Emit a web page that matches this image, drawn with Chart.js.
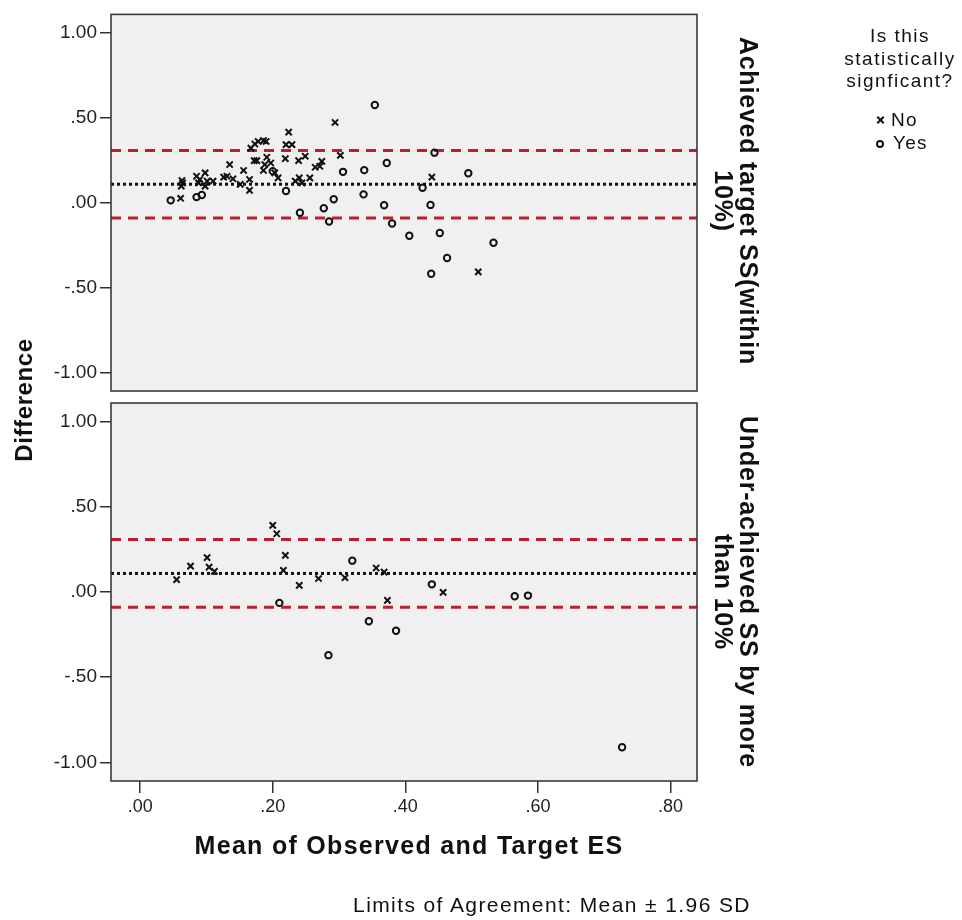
<!DOCTYPE html>
<html>
<head>
<meta charset="utf-8">
<script src="https://cdn.jsdelivr.net/npm/chart.js@4.4.1/dist/chart.umd.min.js"></script>
<style>
body { margin: 0; background: #fff; font-family: "Liberation Sans", Arial, sans-serif; color: #111; }
#wrap { position: relative; width: 962px; height: 920px; overflow: hidden; }
#wrap canvas { position: absolute; left: 0; top: 0; }
.txt { position: absolute; white-space: nowrap; }
.bold { font-weight: bold; }
.panel { width: 379px; height: 50px; line-height: 25px; font-size: 25px; letter-spacing: 0.8px; text-align: center; transform: rotate(90deg); }
.sym { position: absolute; width: 8px; height: 8px; box-sizing: border-box; }
.sym.yes { border: 2px solid #111; border-radius: 50%; }
.sym.no::before, .sym.no::after { content: ""; position: absolute; left: -0.5px; top: 3px; width: 9px; height: 2px; background: #111; }
.sym.no::before { transform: rotate(45deg); }
.sym.no::after { transform: rotate(-45deg); }
</style>
</head>
<body>
<div id="wrap">
  <canvas id="topChart" width="962" height="920"></canvas>
  <canvas id="botChart" width="962" height="920"></canvas>

  <div class="txt bold" style="left:-76px; top:386px; width:200px; line-height:28px; font-size:24px; letter-spacing:0.6px; text-align:center; transform:rotate(-90deg);">Difference</div>

  <div class="txt bold panel" style="left:546px; top:176px;">Achieved target SS(within<br>10%)</div>
  <div class="txt bold panel" style="left:546px; top:567px;">Under-achieved SS by more<br>than 10%</div>

  <div class="txt" style="left:800px; top:25px; width:200px; font-size:19px; line-height:22.7px; letter-spacing:1.5px; text-align:center;">Is this<br>statistically<br>signficant?</div>
  <div class="sym no" style="left:876px; top:116px;"></div>
  <div class="txt" style="left:891px; top:108.5px; font-size:19px; line-height:22px; letter-spacing:1.2px;">No</div>
  <div class="sym yes" style="left:876px; top:139.5px;"></div>
  <div class="txt" style="left:893px; top:132px; font-size:19px; line-height:22px; letter-spacing:1.2px;">Yes</div>

  <div class="txt bold" style="left:159px; top:831px; width:500px; font-size:25px; line-height:29px; letter-spacing:1.3px; text-align:center;">Mean of Observed and Target ES</div>
  <div class="txt" style="left:302px; top:892px; width:500px; font-size:21px; line-height:25px; letter-spacing:1.4px; text-align:center;">Limits of Agreement: Mean &plusmn; 1.96 SD</div>
</div>

<script>
// Achieved target SS (within 10%)
var topNoX  = [0.061, 0.063, 0.064, 0.062, 0.085, 0.090, 0.098, 0.101, 0.098, 0.088, 0.110, 0.126, 0.131, 0.135, 0.140, 0.151, 0.156,
               0.165, 0.165, 0.167, 0.173, 0.178, 0.186, 0.190, 0.172, 0.176, 0.186, 0.188, 0.191, 0.197, 0.203, 0.208, 0.220,
               0.224, 0.229, 0.219, 0.239, 0.249, 0.234, 0.240, 0.244, 0.256, 0.264, 0.271, 0.274, 0.294, 0.302, 0.440, 0.510];
var topNoY  = [0.026, 0.131, 0.117, 0.098, 0.156, 0.137, 0.176, 0.127, 0.098, 0.117, 0.127, 0.151, 0.156, 0.225, 0.141, 0.108, 0.190,
               0.137, 0.073, 0.322, 0.346, 0.361, 0.366, 0.361, 0.248, 0.248, 0.190, 0.225, 0.268, 0.234, 0.176, 0.146, 0.342,
               0.416, 0.342, 0.260, 0.248, 0.274, 0.127, 0.146, 0.117, 0.146, 0.209, 0.215, 0.244, 0.473, 0.279, 0.151, -0.408];
var topYesX = [0.046, 0.085, 0.093, 0.200, 0.220, 0.241, 0.277, 0.285, 0.292, 0.306, 0.354, 0.338, 0.337, 0.372, 0.368, 0.380, 0.406,
               0.426, 0.444, 0.438, 0.452, 0.463, 0.439, 0.495, 0.533];
var topYesY = [0.014, 0.033, 0.045, 0.186, 0.069, -0.059, -0.033, -0.111, 0.020, 0.182, 0.576, 0.192, 0.049, 0.234, -0.015, -0.123, -0.195,
               0.088, 0.295, -0.013, -0.179, -0.326, -0.419, 0.174, -0.236];

// Under-achieved SS by more than 10%
var botNoX  = [0.055, 0.076, 0.101, 0.104, 0.112, 0.200, 0.206, 0.219, 0.216, 0.240, 0.269, 0.309, 0.356, 0.368, 0.373, 0.457];
var botNoY  = [0.073, 0.152, 0.202, 0.146, 0.121, 0.391, 0.342, 0.215, 0.127, 0.039, 0.079, 0.084, 0.141, 0.117, -0.049, -0.002];
var botYesX = [0.210, 0.284, 0.320, 0.345, 0.386, 0.440, 0.565, 0.585, 0.727];
var botYesY = [-0.064, -0.371, 0.184, -0.172, -0.228, 0.045, -0.025, -0.021, -0.912];

// limits of agreement (mean +/- 1.96 SD)
var meanDiff = 0.109;
var upperLoA = 0.308;
var lowerLoA = -0.090;

var xRange = [-0.044, 0.84];
var yRange = [-1.11, 1.11];
var xTicks = [0, 0.2, 0.4, 0.6, 0.8];
var yTicks = [-1, -0.5, 0, 0.5, 1];

var FONT = '"Liberation Sans", Arial, sans-serif';

function pts(xs, ys) {
    return xs.map(function(x, i) { return { x: x, y: ys[i] }; });
}
function hline(v) {
    return [{ x: xRange[0], y: v }, { x: xRange[1], y: v }];
}
// SPSS style: .50, -.50, 1.00
function fmt(v) {
    var s = Math.abs(v).toFixed(2).replace(/^0/, '');
    return (v < 0 ? '-' : '') + s;
}

// grey plot background + frame
var framePlugin = {
    id: 'frame',
    beforeDraw: function(chart) {
        var a = chart.chartArea, ctx = chart.ctx;
        ctx.save();
        ctx.fillStyle = '#F0F0F0';
        ctx.fillRect(a.left, a.top, a.right - a.left, a.bottom - a.top);
        ctx.restore();
    },
    afterDraw: function(chart) {
        var a = chart.chartArea, ctx = chart.ctx;
        ctx.save();
        ctx.strokeStyle = '#3a3a3a';
        ctx.lineWidth = 1.6;
        ctx.strokeRect(a.left, a.top, a.right - a.left, a.bottom - a.top);
        ctx.restore();
    }
};

function makeChart(id, noX, noY, yesX, yesY, isBottom) {
    var tickGrid = { drawOnChartArea: false, drawTicks: true, color: '#333', lineWidth: 1.5 };

    var chartData = {
        datasets: [
            { type: 'scatter', label: 'No', data: pts(noX, noY), pointStyle: 'crossRot', pointRadius: 4.4,
              borderColor: '#111', borderWidth: 2, order: 0 },
            { type: 'scatter', label: 'Yes', data: pts(yesX, yesY), pointStyle: 'circle', pointRadius: 3.2,
              borderColor: '#111', backgroundColor: 'rgba(0,0,0,0)', borderWidth: 2, order: 0 },
            { type: 'line', label: 'Upper', data: hline(upperLoA), borderColor: '#BE1E2D', borderWidth: 3,
              borderDash: [10, 7], pointRadius: 0, order: 1 },
            { type: 'line', label: 'Lower', data: hline(lowerLoA), borderColor: '#BE1E2D', borderWidth: 3,
              borderDash: [10, 7], pointRadius: 0, order: 1 },
            { type: 'line', label: 'Mean', data: hline(meanDiff), borderColor: '#111', borderWidth: 3,
              borderDash: [3, 3], pointRadius: 0, order: 1 }
        ]
    };

    var chartOptions = {
        responsive: false,
        animation: false,
        events: [],
        layout: { padding: isBottom ? { left: 0, right: 265, top: 403, bottom: 0 }
                                    : { left: 0, right: 265, top: 12, bottom: 529 } },
        plugins: { legend: { display: false }, tooltip: { enabled: false } },
        scales: {
            x: {
                type: 'linear', min: xRange[0], max: xRange[1], display: isBottom,
                afterBuildTicks: function(s) { s.ticks = xTicks.map(function(v) { return { value: v }; }); },
                afterFit: function(s) { s.height = isBottom ? 139 : 0; },
                grid: Object.assign({ tickLength: 12 }, tickGrid),
                border: { display: false },
                ticks: { padding: 3, color: '#222', font: { family: FONT, size: 18 }, maxRotation: 0, autoSkip: false,
                         callback: function(v) { return fmt(v); } }
            },
            y: {
                type: 'linear', min: yRange[0], max: yRange[1],
                afterBuildTicks: function(s) { s.ticks = yTicks.map(function(v) { return { value: v }; }); },
                afterFit: function(s) { s.width = 111; },
                grid: Object.assign({ tickLength: 11 }, tickGrid),
                border: { display: false },
                ticks: { padding: 3, color: '#222', font: { family: FONT, size: 19 }, autoSkip: false,
                         callback: function(v) { return fmt(v); } }
            }
        }
    };

    return new Chart(document.getElementById(id), { data: chartData, options: chartOptions, plugins: [framePlugin] });
}

var topChart = makeChart('topChart', topNoX, topNoY, topYesX, topYesY, false);
var botChart = makeChart('botChart', botNoX, botNoY, botYesX, botYesY, true);
</script>
</body>
</html>
